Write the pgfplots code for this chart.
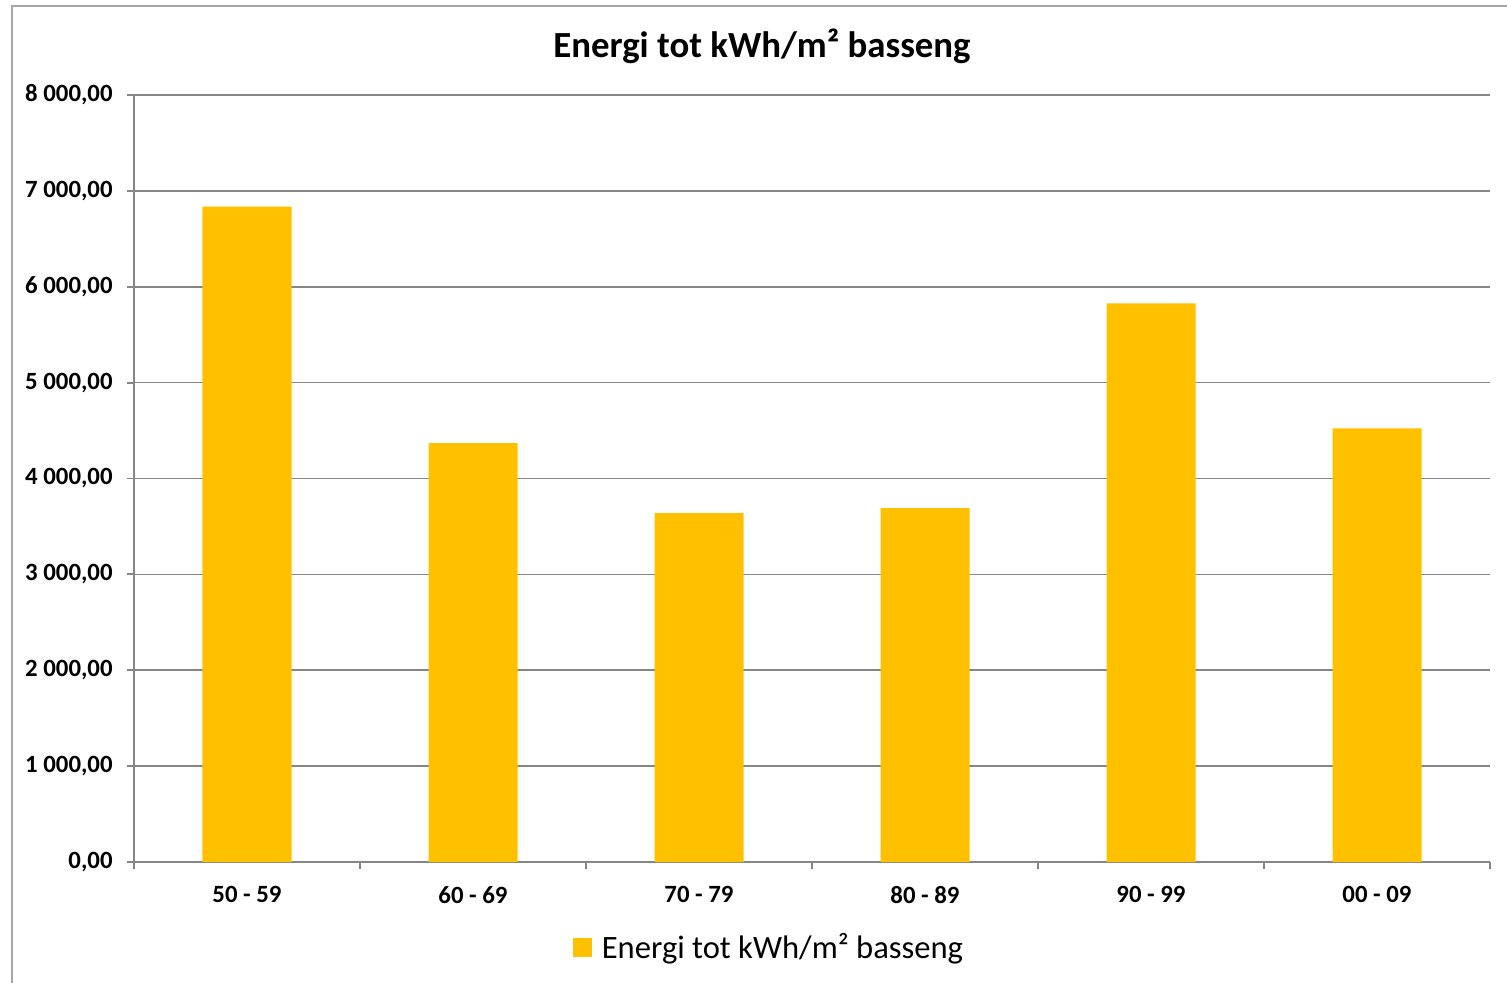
\documentclass[border=0pt]{standalone}
\usepackage{pgfplots}
\pgfplotsset{compat=1.18}
\usepackage{fontspec}
\setmainfont{Carlito}
\definecolor{barc}{HTML}{FFC000}
\definecolor{gridc}{HTML}{868686}
\definecolor{framec}{HTML}{A6A6A6}
\begin{document}
\begin{tikzpicture}
\begin{axis}[
  scale only axis,
  width=678pt, height=383.5pt,
  xmin=-0.5, xmax=5.5,
  ymin=0, ymax=8000,
  axis x line*=bottom, axis y line*=left,
  axis line style={gridc, line width=0.9pt, -},
  ymajorgrids,
  grid style={gridc, line width=0.85pt},
  xtick={0,1,2,3,4,5},
  xticklabels={50 - 59,60 - 69,70 - 79,80 - 89,90 - 99,00 - 09},
  ytick={0,1000,...,8000},
  minor xtick={-0.5,0.5,...,5.5},
  minor ytick={0,1000,...,8000},
  major tick length=0pt,
  minor tick length=3.5pt,
  tick align=outside,
  tick style={gridc, line width=0.9pt},
  x tick label style={font=\fontsize{12.4}{14}\selectfont\bfseries, anchor=north, inner sep=0pt, yshift=-12pt},
  y tick label style={font=\fontsize{12.4}{14}\selectfont\bfseries, anchor=east, inner sep=0pt, xshift=-10.5pt,
    /pgf/number format/.cd, fixed, fixed zerofill, precision=2, use comma, 1000 sep={\ }, assume math mode=true},
  scaled y ticks=false,
  legend style={draw=none, at={(0.469,-0.111)}, anchor=center, font=\fontsize{16.3}{18}\selectfont,
    inner sep=0pt, /tikz/every odd column/.append style={column sep=3pt}},
  legend image code/.code={\fill[barc] (0pt,-4.75pt) rectangle (9.5pt,4.75pt);},
  clip=false,
]
\addplot[ybar, bar width=44.5pt, fill=barc, draw=none] coordinates {
  (0,6835) (1,4370) (2,3640) (3,3692) (4,5827) (5,4523)
};
\addlegendentry{Energi tot kWh/m² basseng}
\coordinate (O) at (rel axis cs:0,0);
\end{axis}
\begin{scope}[shift={(O)}]
\useasboundingbox (-67pt,-60.5pt) rectangle (686.5pt,431pt);
\draw[framec, line width=1pt] (-61pt,-60.5pt) -- (-61pt,428pt) -- (686.5pt,428pt);
\node[font=\fontsize{18.4}{21}\selectfont\bfseries] at (314pt,408pt) {Energi tot kWh/m² basseng};
\end{scope}
\end{tikzpicture}
\end{document}
